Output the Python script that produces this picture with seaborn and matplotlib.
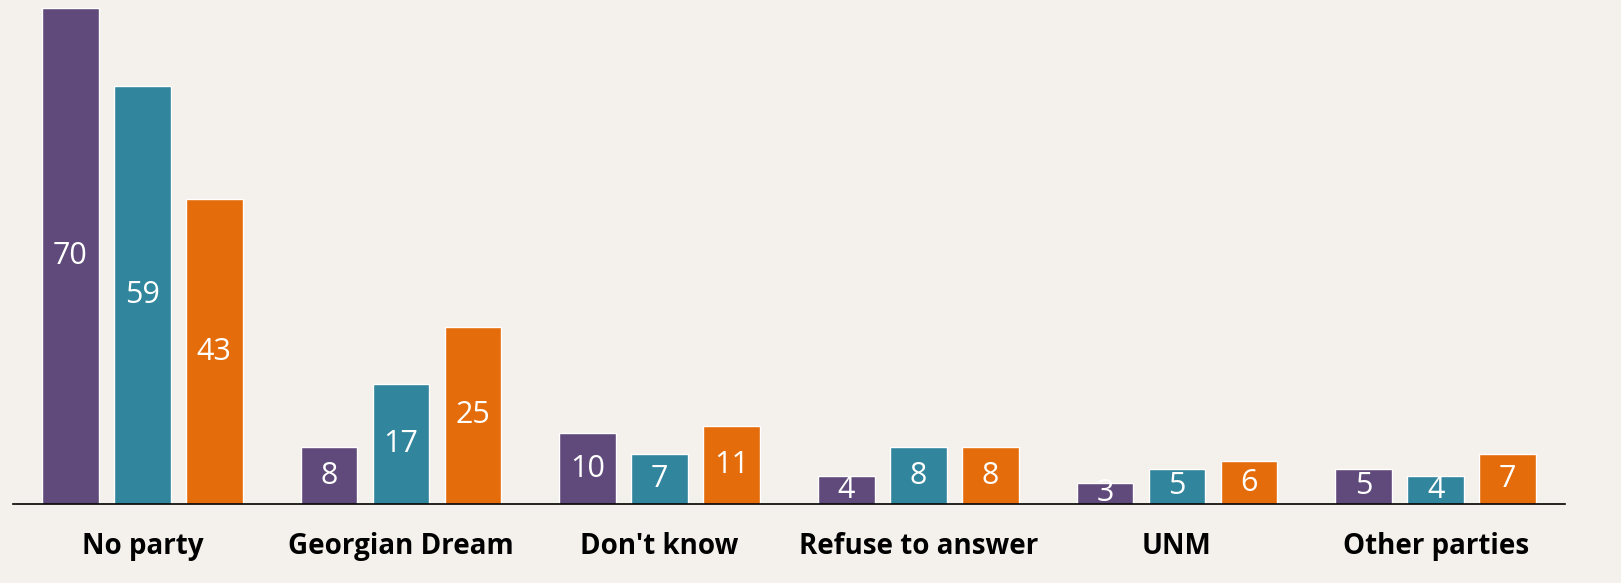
import pandas as pd
import seaborn as sns
import matplotlib.pyplot as plt

# Categories and series values
categories = ["No party", "Georgian Dream", "Don't know", "Refuse to answer", "UNM", "Other parties"]
series_names = ["Series 1", "Series 2", "Series 3"]
series_1 = [70, 8, 10, 4, 3, 5]
series_2 = [59, 17, 7, 8, 5, 4]
series_3 = [43, 25, 11, 8, 6, 7]

colors = ["#604A7B", "#31859C", "#E46C0A"]
bg = "#F4F1EC"

# Long-form table for seaborn
df = pd.DataFrame({
    "category": categories * 3,
    "series": [series_names[0]] * 6 + [series_names[1]] * 6 + [series_names[2]] * 6,
    "value": series_1 + series_2 + series_3,
})

sns.set_style("white")
plt.rcParams["font.family"] = ["Open Sans", "DejaVu Sans"]

fig = plt.figure(figsize=(16.21, 5.83), dpi=100, facecolor=bg)
ax = fig.add_axes([13 / 1621, 1 - 504 / 583, (1565 - 13) / 1621, (504 - 8) / 583])
ax.set_facecolor(bg)

sns.barplot(data=df, x="category", y="value", hue="series", order=categories,
            hue_order=series_names, palette=colors, width=0.834, gap=0.21,
            saturation=1, legend=False, ax=ax)

for cont in ax.containers:
    ax.bar_label(cont, label_type="center", color="white", fontsize=22)

ax.set_xlim(-0.5, 5.5)
ax.set_ylim(0, 70)
ax.set_xlabel("")
ax.set_ylabel("")
ax.set_yticks([])
ax.tick_params(axis="x", length=0, pad=20)
for lbl in ax.get_xticklabels():
    lbl.set_fontweight("bold")
    lbl.set_fontsize(20)
    lbl.set_color("black")
for side in ["top", "left", "right"]:
    ax.spines[side].set_visible(False)
ax.spines["bottom"].set_color("black")
ax.spines["bottom"].set_linewidth(1.2)

fig.savefig("out.png", dpi=100, facecolor=bg)
